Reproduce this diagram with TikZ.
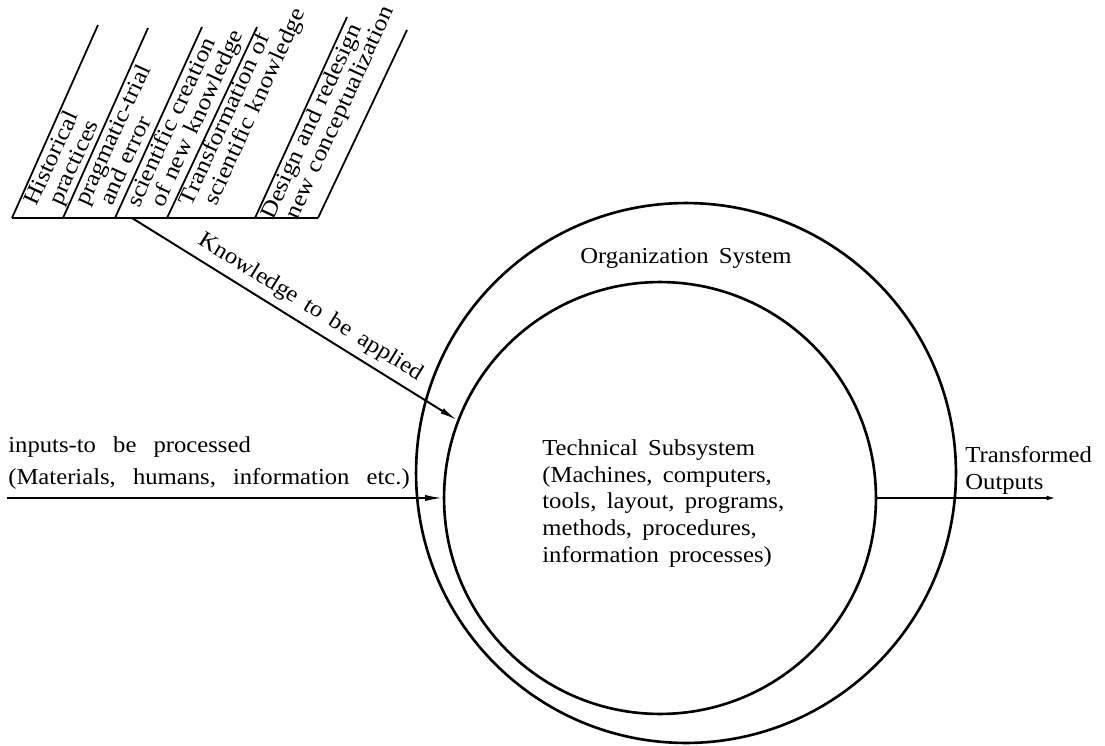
\documentclass[tikz,border=0pt]{standalone}
\usepackage{fontspec}
\setmainfont{Liberation Serif}[FakeStretch=1.08]
\newfontfamily\fanfam{Liberation Serif}[FakeStretch=1.12]
\usetikzlibrary{positioning,calc,arrows.meta}
\pgfmathsetmacro{\orgdiam}{10.8}
\pgfmathsetmacro{\techdiam}{8.64}
\newcommand{\diagfont}{\fontsize{13}{15.3}\selectfont\spaceskip=0.45em plus 0.1em\relax}
\newcommand{\widefont}{\fontsize{13}{15.3}\selectfont\spaceskip=0.75em plus 0.1em\relax}
\newcommand{\fanfont}{\fanfam\fontsize{13}{12.5}\selectfont\spaceskip=0.35em plus 0.1em\relax}
\tikzset{
  ring/.style={draw, circle, inner sep=0pt, line width=1.5pt},
  flow/.style={line width=1.1pt, -{Latex[length=10pt,width=3.5pt]}},
  outflow/.style={line width=1.1pt, -{Latex[length=6pt,width=2.6pt]}},
  fanline/.style={line width=1pt},
  lbl/.style={inner sep=0pt, font=\diagfont, align=left},
  fanlbl/.style={inner sep=0pt, font=\fanfont, align=left, rotate=65.3, anchor=north west},
}

\begin{document}
\begin{tikzpicture}[x=0.02cm, y=0.02cm]
    \useasboundingbox (0,0) rectangle (1105,745);
    % define the two systems
    \node[ring, minimum size=\orgdiam cm] (org) at (686,272) {};
    \node[ring, minimum size=\techdiam cm] (tech) at (660,247) {};
    % fan of knowledge sources
    \coordinate (b0) at (12,527);
    \coordinate (b1) at (63,527);
    \coordinate (b2) at (115,527);
    \coordinate (b3) at (167,527);
    \coordinate (b4) at (255,527);
    \coordinate (b5) at (318,527);
    \coordinate (t0) at (98,720);
    \coordinate (t1) at (148,717);
    \coordinate (t2) at (202,718);
    \coordinate (t3) at (257,718);
    \coordinate (t4) at (347,728);
    \coordinate (t5) at (407,715);
    \coordinate (kn) at (132,527);
    % ends of the flows
    \coordinate[left=8.72cm of tech.west] (in_start);
    \coordinate[right=3.6cm of tech.east] (out_end);
    % draw diagram
    \draw[fanline] (b0) -- (b5);
    \draw[fanline] (b0) -- (t0);
    \draw[fanline] (b1) -- (t1);
    \draw[fanline] (b2) -- (t2);
    \draw[fanline] (b3) -- (t3);
    \draw[fanline] (b4) -- (t4);
    \draw[fanline] (b5) -- (t5);
    \draw[flow] (kn) -- node[sloped, above=4pt, pos=0.52, font=\diagfont, inner sep=0pt] {Knowledge to be applied} (tech.159);
    \draw[flow] (in_start) -- (tech.west);
    \draw[outflow] (tech.east) -- (out_end);
    % add labels
    \node[fanlbl] (hist) at ($(b0)+(65:20)+(-25:1.5)$) {Historical\\\hspace*{6pt}practices};
    \node[fanlbl] (prag) at ($(b1)+(65:20)+(-25:1.5)$) {pragmatic-trial\\\hspace*{6pt}and error};
    \node[fanlbl] (sci) at ($(b2)+(65:18)+(-25:1.5)$) {scientific creation\\\hspace*{6pt}of new knowledge};
    \node[fanlbl] (trans) at ($(b3)+(65:20)+(-25:1.5)$) {Transformation of\\\hspace*{6pt}scientific knowledge};
    \node[fanlbl] (design) at ($(b4)+(65:5)+(-25:1.5)$) {Design and redesign\\\hspace*{6pt}new conceptualization};
    \node[lbl] (org_lbl) at (686,487) {Organization System};
    \node[lbl, anchor=north west] (tech_lbl) at (542,306) {Technical Subsystem\\(Machines, computers,\\tools, layout, programs,\\methods, procedures,\\information processes)};
    \node[lbl, font=\widefont, anchor=north west] (in_lbl) at (8,309) {inputs-to be processed\\[3pt](Materials, humans, information etc.)};
    \node[lbl, anchor=north west] (out_lbl) at (965,299) {Transformed\\Outputs};
\end{tikzpicture}
\end{document}
